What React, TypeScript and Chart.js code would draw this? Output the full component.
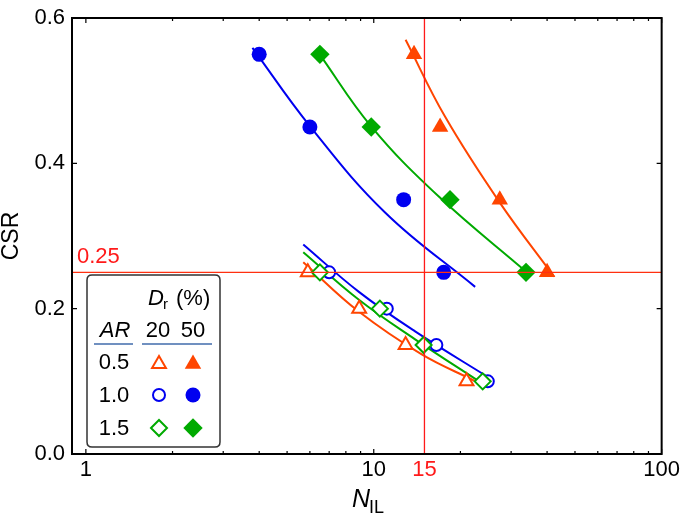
import React, { useEffect, useRef } from 'react';
import { Chart, registerables } from 'chart.js';

Chart.register(...registerables);

// ---- data ----
const CSR_DR50 = [0.55, 0.45, 0.35, 0.25];
const CSR_DR20 = [0.25, 0.2, 0.15, 0.1];
const N_DR50_AR05 = [13.8, 17.0, 27.4, 40.0];
const N_DR50_AR10 = [4.0, 6.0, 12.7, 17.5];
const N_DR50_AR15 = [6.5, 9.8, 18.4, 33.8];
const N_DR20_AR05 = [5.9, 8.9, 12.9, 21.0];
const N_DR20_AR10 = [7.0, 11.1, 16.5, 24.9];
const N_DR20_AR15 = [6.5, 10.5, 14.9, 23.9];

// fitted curves
const FIT50_AR05_N = [12.9, 17.7, 27.4, 42.3];
const FIT50_AR05_CSR = [0.57, 0.464, 0.346, 0.244];
const FIT50_AR10_N = [3.79, 5.98, 10.97, 22.5];
const FIT50_AR10_CSR = [0.559, 0.452, 0.332, 0.23];
const FIT50_AR15_N = [6.46, 9.79, 16.75, 33.8];
const FIT50_AR15_CSR = [0.551, 0.451, 0.355, 0.251];
const FIT20_AR05_N = [5.69, 8.87, 14.68, 22.4];
const FIT20_AR05_CSR = [0.264, 0.196, 0.137, 0.1007];
const FIT20_AR10_N = [5.69, 8.88, 13.92, 25.6];
const FIT20_AR10_CSR = [0.2884, 0.2231, 0.1687, 0.103];
const FIT20_AR15_N = [5.69, 8.88, 13.92, 24.2];
const FIT20_AR15_CSR = [0.2776, 0.2122, 0.1578, 0.0952];

const X_TICKS = [1, 10, 15, 100];
const X_MAJOR = [1, 10, 100];
const X_MINOR = [2, 3, 4, 5, 6, 7, 8, 9, 20, 30, 40, 50, 60, 70, 80, 90];
const Y_TICKS = [0, 0.2, 0.4, 0.6];
const REF_N = 15;
const REF_CSR = 0.25;
const REF_CSR_LABEL = '0.25';
const AR_LABELS = ['0.5', '1.0', '1.5'];
const DR_LABELS = ['20', '50'];

const ORANGE = '#ff4500';
const BLUE = '#0000f0';
const GREEN = '#00aa00';
const RED = '#ff1a1a';
const FONT = "'Liberation Sans', Arial, sans-serif";

const pts = (xs: number[], ys: number[]) => xs.map((x, i) => ({ x, y: ys[i] }));

function drawShape(ctx: CanvasRenderingContext2D, kind: string, x: number, y: number, r: number, color: string, filled: boolean) {
  ctx.beginPath();
  if (kind === 'circle') {
    ctx.arc(x, y, r, 0, Math.PI * 2);
  } else if (kind === 'triangle') {
    for (let k = 0; k < 3; k++) {
      const a = (k * 2 * Math.PI) / 3;
      const px = x + Math.sin(a) * r;
      const py = y - Math.cos(a) * r;
      if (k === 0) ctx.moveTo(px, py);
      else ctx.lineTo(px, py);
    }
    ctx.closePath();
  } else {
    ctx.moveTo(x - r, y);
    ctx.lineTo(x, y - r);
    ctx.lineTo(x + r, y);
    ctx.lineTo(x, y + r);
    ctx.closePath();
  }
  if (filled) {
    ctx.fillStyle = color;
    ctx.fill();
  } else {
    ctx.fillStyle = '#fff';
    ctx.fill();
    ctx.lineWidth = 2;
    ctx.strokeStyle = color;
    ctx.stroke();
  }
}

const decor = {
  id: 'decor',
  afterDraw(chart: any) {
    const { ctx, chartArea: a, scales } = chart;
    const x = scales.x;
    const y = scales.y;
    ctx.save();
    // inward ticks (all four sides)
    ctx.strokeStyle = '#000';
    ctx.lineWidth = 1.2;
    const tickX = (v: number, len: number) => {
      const p = x.getPixelForValue(v);
      ctx.beginPath();
      ctx.moveTo(p, a.bottom);
      ctx.lineTo(p, a.bottom - len);
      ctx.moveTo(p, a.top);
      ctx.lineTo(p, a.top + len);
      ctx.stroke();
    };
    X_MAJOR.forEach((v) => tickX(v, 5));
    X_MINOR.forEach((v) => tickX(v, 3));
    Y_TICKS.forEach((v) => {
      const p = y.getPixelForValue(v);
      ctx.beginPath();
      ctx.moveTo(a.left, p);
      ctx.lineTo(a.left + 5, p);
      ctx.moveTo(a.right, p);
      ctx.lineTo(a.right - 5, p);
      ctx.stroke();
    });
    // frame
    ctx.lineWidth = 2;
    ctx.strokeRect(a.left, a.top, a.right - a.left, a.bottom - a.top);

    // reference line label
    ctx.fillStyle = RED;
    ctx.font = `22px ${FONT}`;
    ctx.textAlign = 'left';
    ctx.textBaseline = 'alphabetic';
    ctx.fillText(REF_CSR_LABEL, a.left + 5, y.getPixelForValue(REF_CSR) - 9);

    // x axis title N_IL
    ctx.fillStyle = '#000';
    ctx.font = `italic 25px ${FONT}`;
    ctx.fillText('N', 352, 507);
    ctx.font = `18px ${FONT}`;
    ctx.fillText('IL', 369, 513);

    // legend box
    const bx = 87, by = 275, bw = 133, bh = 172, rr = 5;
    ctx.beginPath();
    ctx.moveTo(bx + rr, by);
    ctx.lineTo(bx + bw - rr, by);
    ctx.quadraticCurveTo(bx + bw, by, bx + bw, by + rr);
    ctx.lineTo(bx + bw, by + bh - rr);
    ctx.quadraticCurveTo(bx + bw, by + bh, bx + bw - rr, by + bh);
    ctx.lineTo(bx + rr, by + bh);
    ctx.quadraticCurveTo(bx, by + bh, bx, by + bh - rr);
    ctx.lineTo(bx, by + rr);
    ctx.quadraticCurveTo(bx, by, bx + rr, by);
    ctx.closePath();
    ctx.fillStyle = '#fff';
    ctx.fill();
    ctx.strokeStyle = '#333';
    ctx.lineWidth = 1.5;
    ctx.stroke();

    ctx.fillStyle = '#000';
    ctx.font = `italic 22px ${FONT}`;
    ctx.fillText('D', 148, 305);
    ctx.font = `15px ${FONT}`;
    ctx.fillText('r', 163, 309);
    ctx.font = `22px ${FONT}`;
    ctx.fillText('(%)', 176, 305);

    ctx.textAlign = 'center';
    ctx.font = `italic 22px ${FONT}`;
    ctx.fillText('AR', 115, 337);
    ctx.font = `22px ${FONT}`;
    ctx.fillText(DR_LABELS[0], 158, 337);
    ctx.fillText(DR_LABELS[1], 193, 337);

    ctx.strokeStyle = '#7090c0';
    ctx.lineWidth = 2;
    ctx.beginPath();
    ctx.moveTo(94, 344);
    ctx.lineTo(133, 344);
    ctx.moveTo(142, 344);
    ctx.lineTo(212, 344);
    ctx.stroke();

    const rows = [
      { kind: 'triangle', color: ORANGE, ro: 8, rf: 9.5 },
      { kind: 'circle', color: BLUE, ro: 6, rf: 7.5 },
      { kind: 'diamond', color: GREEN, ro: 8, rf: 9.7 },
    ];
    rows.forEach((r, i) => {
      const cy = 362 + i * 33;
      ctx.fillStyle = '#000';
      ctx.font = `22px ${FONT}`;
      ctx.textAlign = 'center';
      ctx.fillText(AR_LABELS[i], 114, cy + 7);
      drawShape(ctx, r.kind, 159, cy + (r.kind === 'triangle' ? 2 : 0), r.ro, r.color, false);
      drawShape(ctx, r.kind, 193, cy + (r.kind === 'triangle' ? 2 : 0), r.rf, r.color, true);
    });
    ctx.restore();
  },
};

export default function App() {
  const ref = useRef<HTMLCanvasElement | null>(null);
  useEffect(() => {
    document.body.style.margin = '0';
    const canvas = ref.current;
    if (!canvas) return;
    const curve = (xs: number[], ys: number[], color: string) => ({
      data: pts(xs, ys),
      showLine: true,
      borderColor: color,
      borderWidth: 2,
      pointRadius: 0,
      tension: 0.4,
      order: 10,
    });
    const marks = (xs: number[], ys: number[], color: string, style: string, r: number, filled: boolean, order: number) => ({
      data: pts(xs, ys),
      showLine: false,
      pointStyle: style,
      pointRadius: r,
      pointBackgroundColor: filled ? color : '#fff',
      pointBorderColor: color,
      pointBorderWidth: filled ? 0 : 2,
      order,
    });
    const chart = new Chart(canvas, {
      type: 'scatter',
      data: {
        datasets: [
          {
            data: [{ x: REF_N, y: 0 }, { x: REF_N, y: 0.6 }],
            showLine: true,
            borderColor: RED,
            borderWidth: 1.3,
            pointRadius: 0,
            order: 0,
          },
          {
            data: [{ x: 0.5, y: REF_CSR }, { x: 200, y: REF_CSR }],
            showLine: true,
            borderColor: '#ff3010',
            borderWidth: 1.3,
            pointRadius: 0,
            order: 0,
          },
          marks(N_DR20_AR15, CSR_DR20, GREEN, 'rectRot', 8, false, 1),
          marks(N_DR50_AR15, CSR_DR50, GREEN, 'rectRot', 9.7, true, 1),
          marks(N_DR20_AR10, CSR_DR20, BLUE, 'circle', 6, false, 2),
          marks(N_DR50_AR10, CSR_DR50, BLUE, 'circle', 7.5, true, 2),
          marks(N_DR20_AR05, CSR_DR20, ORANGE, 'triangle', 8, false, 3),
          marks(N_DR50_AR05, CSR_DR50, ORANGE, 'triangle', 9.5, true, 3),
          curve(FIT50_AR05_N, FIT50_AR05_CSR, ORANGE),
          curve(FIT50_AR10_N, FIT50_AR10_CSR, BLUE),
          curve(FIT50_AR15_N, FIT50_AR15_CSR, GREEN),
          curve(FIT20_AR05_N, FIT20_AR05_CSR, ORANGE),
          curve(FIT20_AR10_N, FIT20_AR10_CSR, BLUE),
          curve(FIT20_AR15_N, FIT20_AR15_CSR, GREEN),
        ] as any,
      },
      options: {
        responsive: false,
        animation: false,
        devicePixelRatio: 1,
        layout: { padding: { top: 12, right: 19, left: 0, bottom: 0 } },
        plugins: { legend: { display: false }, tooltip: { enabled: false } },
        scales: {
          x: {
            type: 'logarithmic',
            position: 'bottom',
            min: 0.895,
            max: 100,
            grid: { display: false, drawTicks: false },
            border: { display: false },
            afterBuildTicks: (s: any) => {
              s.ticks = X_TICKS.map((v) => ({ value: v }));
            },
            afterFit: (s: any) => {
              s.height = 60;
            },
            ticks: {
              autoSkip: false,
              maxRotation: 0,
              padding: 5,
              font: { family: FONT, size: 22, lineHeight: 1 },
              color: (c: any) => (c.tick && c.tick.value === REF_N ? RED : '#000'),
              callback: (v: any) => String(v),
            },
          },
          y: {
            type: 'linear',
            min: 0,
            max: 0.6,
            grid: { display: false, drawTicks: false },
            border: { display: false },
            afterBuildTicks: (s: any) => {
              s.ticks = Y_TICKS.map((v) => ({ value: v }));
            },
            afterFit: (s: any) => {
              s.width = 72;
            },
            title: {
              display: true,
              text: 'CSR',
              color: '#000',
              padding: 0,
              font: { family: FONT, size: 23, lineHeight: 1 },
            },
            ticks: {
              padding: 7,
              color: '#000',
              font: { family: FONT, size: 22, lineHeight: 1 },
              callback: (v: any) => Number(v).toFixed(1),
            },
          },
        },
      } as any,
      plugins: [decor],
    });
    return () => chart.destroy();
  }, []);
  return (
    <div style={{ width: 685, height: 514 }}>
      <canvas ref={ref} width={685} height={514} style={{ display: 'block' }} />
    </div>
  );
}
